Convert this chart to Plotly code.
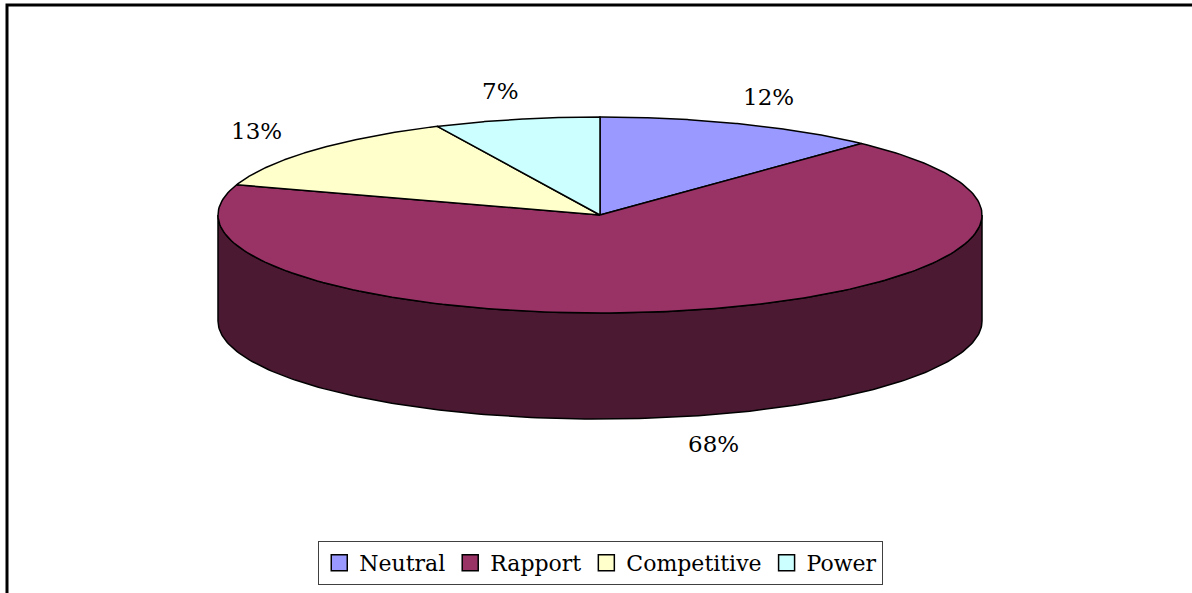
import numpy as np
import plotly.graph_objects as go

# ---- data ----
categories = ["Neutral", "Rapport", "Competitive", "Power"]
values = [12, 68, 13, 7]
labels = ["12%", "68%", "13%", "7%"]
colors = ["#9999FF", "#993366", "#FFFFCC", "#CCFFFF"]

# ---- 3D pie geometry (pixel space) ----
W, H = 1192, 593
CX, CY = 600, 215
RX, RY = 382, 98
DEPTH = 106
FONT = "DejaVu Serif"


def arc(a, b, dy=0.0, rx=RX, ry=RY, n=200):
    t = np.radians(np.linspace(a, b, n))
    return CX + rx * np.sin(t), CY - ry * np.cos(t) + dy


def darker(hexc, f=0.5):
    h = hexc.lstrip("#")
    r, g, b = (int(h[i:i + 2], 16) for i in (0, 2, 4))
    return "#%02X%02X%02X" % (int(r * f), int(g * f), int(b * f))


total = float(sum(values))
ends = np.cumsum(values) / total * 360.0
starts = np.concatenate([[0.0], ends[:-1]])

fig = go.Figure()

# side walls (visible front half: 90..270 degrees clockwise from top)
for s, e, c in zip(starts, ends, colors):
    a, b = max(s, 90.0), min(e, 270.0)
    if a < b:
        tx, ty = arc(a, b)
        bx, by = arc(b, a, dy=DEPTH)
        xs = np.concatenate([tx, bx, tx[:1]])
        ys = np.concatenate([ty, by, ty[:1]])
        fig.add_trace(go.Scatter(x=xs, y=ys, mode="lines", fill="toself",
                                 fillcolor=darker(c), line=dict(color="black", width=1.5),
                                 hoverinfo="skip", showlegend=False))

# top faces
for s, e, c, cat in zip(starts, ends, colors, categories):
    ax, ay = arc(s, e)
    xs = np.concatenate([[CX], ax, [CX]])
    ys = np.concatenate([[CY], ay, [CY]])
    fig.add_trace(go.Scatter(x=xs, y=ys, mode="lines", fill="toself",
                             fillcolor=c, line=dict(color="black", width=1.5),
                             name=cat, hoverinfo="name", showlegend=False))

# legend entries
for c, cat in zip(colors, categories):
    fig.add_trace(go.Scatter(x=[None], y=[None], mode="markers", name=cat,
                             marker=dict(symbol="square", size=16, color=c,
                                         line=dict(color="black", width=1.5))))

# percentage labels
for s, e, lab in zip(starts, ends, labels):
    m = np.radians((s + e) / 2.0)
    lx = CX + 458 * np.sin(m)
    ly = CY - 127 * np.cos(m) + (DEPTH if np.cos(m) < 0 else 0)
    fig.add_annotation(x=lx, y=ly, text=lab, showarrow=False,
                       font=dict(family=FONT, size=23, color="#000000"),
                       xanchor="center", yanchor="middle")

# chart-area frame
fig.add_shape(type="rect", x0=7, y0=5, x1=W + 20, y1=H + 20,
              line=dict(color="black", width=3), layer="above")

fig.update_layout(
    width=W, height=H,
    margin=dict(l=0, r=0, t=0, b=0),
    paper_bgcolor="white", plot_bgcolor="white",
    xaxis=dict(range=[0, W], visible=False, fixedrange=True),
    yaxis=dict(range=[H, 0], visible=False, fixedrange=True),
    showlegend=True,
    legend=dict(orientation="h", x=0.504, xanchor="center", y=1 - 541 / H, yanchor="top",
                bordercolor="#404040", borderwidth=1, bgcolor="white",
                font=dict(family=FONT, size=22, color="black"),
                itemwidth=30, tracegroupgap=0),
)

fig.write_html("out.html", config={"displayModeBar": False},
               post_script="document.body.style.margin='0';document.body.style.overflow='hidden';")
